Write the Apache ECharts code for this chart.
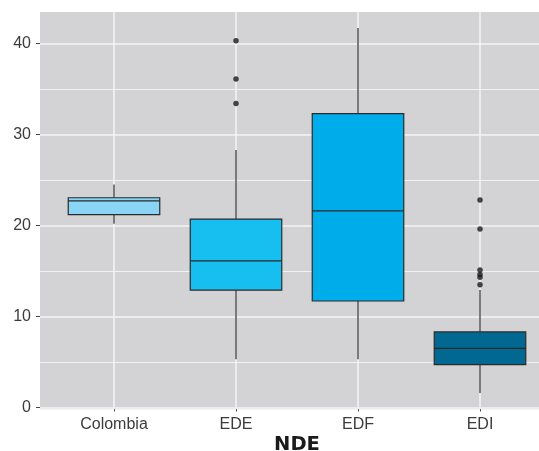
<!DOCTYPE html>
<html>
<head>
<meta charset="utf-8">
<script src="https://cdn.jsdelivr.net/npm/echarts@6/dist/echarts.min.js"></script>
<style>
html,body{margin:0;padding:0;background:#fff;}
#chart{width:539px;height:451px;}
</style>
</head>
<body>
<div id="chart"></div>
<script>
// ---- data ----
const categories = ['Colombia', 'EDE', 'EDF', 'EDI'];
// [lower whisker, Q1, median, Q3, upper whisker]
const colombiaBox = [20.2, 21.2, 22.7, 23.05, 24.5];
const edeBox = [5.3, 12.9, 16.1, 20.7, 28.3];
const edfBox = [5.3, 11.7, 21.6, 32.3, 41.7];
const ediBox = [1.6, 4.7, 6.5, 8.3, 12.9];
const edeOutliers = [40.3, 36.1, 33.4];
const ediOutliers = [22.8, 19.6, 15.1, 14.6, 14.3, 13.5];
const boxColors = ['#8AD5F5', '#17BFF0', '#00ADEB', '#006891'];
const yTicks = [0, 10, 20, 30, 40];
const yMinor = [5, 15, 25, 35];

const boxes = [colombiaBox, edeBox, edfBox, ediBox];
const boxData = boxes.map((b, i) => [i].concat(b));
const outlierData = []
  .concat(edeOutliers.map(v => [1, v]))
  .concat(ediOutliers.map(v => [3, v]));

const chart = echarts.init(document.getElementById('chart'), null, {renderer: 'canvas'});
const TOP = 12, BOTTOM = 41.7;
const Y_MIN = -0.2, Y_MAX = 43.46;
const textColor = '#3b3b3b';
const fontFamily = '"Liberation Sans", Arial, sans-serif';

const option = {
  backgroundColor: '#ffffff',
  animation: false,
  grid: [
    {left: 40, right: 0, top: TOP, bottom: BOTTOM, show: true, backgroundColor: '#D3D3D5', borderWidth: 0, outerBoundsMode: 'none', containLabel: false},
    {left: 53, right: -2, top: TOP, bottom: BOTTOM, show: false, outerBoundsMode: 'none', containLabel: false}
  ],
  xAxis: [
    {gridIndex: 0, type: 'value', show: false, min: 0, max: 1},
    {
      gridIndex: 1, type: 'category', data: categories, boundaryGap: true,
      axisLine: {show: false},
      axisTick: {show: true, alignWithLabel: true, length: 4, lineStyle: {color: '#444', width: 1}},
      axisLabel: {color: textColor, fontSize: 16, fontFamily: fontFamily, margin: 7},
      splitLine: {show: false},
      name: 'NDE', nameLocation: 'middle', nameGap: 26, nameMoveOverlap: false,
      nameTextStyle: {color: '#1a1a1a', fontSize: 19.5, fontWeight: 'bold', fontFamily: '"DejaVu Sans", sans-serif'}
    }
  ],
  yAxis: [
    {
      gridIndex: 0, type: 'value', min: Y_MIN, max: Y_MAX,
      axisLine: {show: false},
      axisTick: {show: true, length: 4, customValues: yTicks, lineStyle: {color: '#444', width: 1}},
      axisLabel: {color: textColor, fontSize: 16, fontFamily: fontFamily, margin: 9, customValues: yTicks},
      splitLine: {show: false}
    },
    {gridIndex: 1, type: 'value', min: Y_MIN, max: Y_MAX, show: false, splitLine: {show: false}}
  ],
  series: [
    {
      type: 'scatter', xAxisIndex: 0, yAxisIndex: 0, data: [], z: 1, silent: true,
      markLine: {
        silent: true, symbol: 'none', label: {show: false}, animation: false, z: 1,
        lineStyle: {color: '#F4F4F4', type: 'solid', width: 1.5},
        data: yTicks.map(v => ({yAxis: v}))
          .concat(yMinor.map(v => ({yAxis: v, lineStyle: {width: 1.2, color: '#F1F1F1'}})))
      }
    },
    {
      type: 'scatter', xAxisIndex: 1, yAxisIndex: 1, data: [], z: 1, silent: true,
      markLine: {
        silent: true, symbol: 'none', label: {show: false}, animation: false, z: 1,
        lineStyle: {color: '#F4F4F4', type: 'solid', width: 1.5},
        data: categories.map((c, i) => ({xAxis: i}))
      }
    },
    {
      type: 'custom', xAxisIndex: 1, yAxisIndex: 1, z: 3, data: boxData,
      encode: {x: 0, y: [1, 2, 3, 4, 5]},
      renderItem: function (params, api) {
        const idx = api.value(0);
        const pLo = api.coord([idx, api.value(1)]);
        const pQ1 = api.coord([idx, api.value(2)]);
        const pMed = api.coord([idx, api.value(3)]);
        const pQ3 = api.coord([idx, api.value(4)]);
        const pHi = api.coord([idx, api.value(5)]);
        const half = api.size([1, 0])[0] * 0.75 / 2;
        const x = pMed[0];
        const whisk = {stroke: '#4a4a4a', lineWidth: 1.4};
        return {
          type: 'group',
          children: [
            {type: 'line', shape: {x1: x, y1: pQ3[1], x2: x, y2: pHi[1]}, style: whisk},
            {type: 'line', shape: {x1: x, y1: pQ1[1], x2: x, y2: pLo[1]}, style: whisk},
            {type: 'rect', shape: {x: x - half, y: pQ3[1], width: 2 * half, height: pQ1[1] - pQ3[1]},
              style: {fill: boxColors[idx], stroke: '#2a2a2a', lineWidth: 1.2}},
            {type: 'line', shape: {x1: x - half, y1: pMed[1], x2: x + half, y2: pMed[1]},
              style: {stroke: '#2a2a2a', lineWidth: 1.2}}
          ]
        };
      }
    },
    {
      type: 'scatter', xAxisIndex: 1, yAxisIndex: 1, z: 4, data: outlierData,
      symbol: 'circle', symbolSize: 5.5,
      itemStyle: {color: '#1a1a1a'}
    }
  ]
};
chart.setOption(option);
</script>
</body>
</html>
